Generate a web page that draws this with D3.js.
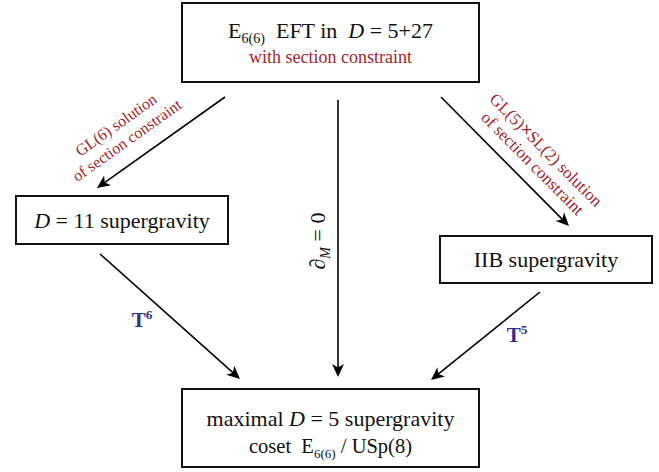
<!DOCTYPE html>
<html>
<head>
<meta charset="utf-8">
<script src="https://cdn.jsdelivr.net/npm/d3@7"></script>
<style>
  body { margin: 0; background: #fff; }
  svg { display: block; }
</style>
</head>
<body>
<svg id="chart" width="659" height="472"></svg>
<script>
// nodes of the diagram (text uses a tiny markup: _{sub} ^{sup} *italic* **bold**)
var nodeIds = ["eft", "d11", "iib", "d5"];
var nodeTitles = [
  ["E_{6(6)}  EFT in  *D* = 5+27"],
  ["*D* = 11 supergravity"],
  ["IIB supergravity"],
  ["maximal *D* = 5 supergravity", "coset  E_{6(6)} / USp(8)"]
];
var nodeNotes = [["with section constraint"], [], [], []];

// arrows between nodes
var edgeFrom = ["eft", "eft", "eft", "d11", "iib"];
var edgeTo = ["d11", "d5", "iib", "d5", "d5"];
var edgeKinds = ["section", "reduction", "section", "torus", "torus"];
var edgeLabels = [
  ["GL(6) solution", "of section constraint"],
  ["∂_{*M*} = 0"],
  ["GL(5)**×**SL(2) solution", "of section constraint"],
  ["T^{6}"],
  ["T^{5}"]
];

// layout (pixels)
var boxLayout = {
  eft: {x: 182, y: 3, w: 297, h: 79, base: [38, 63], size: [22, 18]},
  d11: {x: 16, y: 196, w: 212, h: 48, base: [228], size: [22]},
  iib: {x: 440, y: 236, w: 212, h: 47, base: [267], size: [22]},
  d5:  {x: 182, y: 389, w: 297, h: 78, base: [426, 453], size: [22, 20.5]}
};
var edgeLayout = [
  {x1: 225, y1: 97,  x2: 97,  y2: 188, lx: 116, ly: 125, gap: 19, size: 16},
  {x1: 338, y1: 100, x2: 338, y2: 377, lx: 318, ly: 241, gap: 0,  size: 22},
  {x1: 441, y1: 97,  x2: 569, y2: 226, lx: 546, ly: 150, gap: 19, size: 17},
  {x1: 100, y1: 254, x2: 240, y2: 379, lx: 142, ly: 320, gap: 0,  size: 21},
  {x1: 540, y1: 292, x2: 431, y2: 380, lx: 517, ly: 335, gap: 0,  size: 21}
];

var serif = "'Liberation Serif', 'Times New Roman', serif";
var red = "#a3262c";
var blue = "#2e3192";

var svg = d3.select("#chart");

svg.append("defs").append("marker")
    .attr("id", "arrowhead")
    .attr("viewBox", "-14 -7 15 14")
    .attr("markerWidth", 15)
    .attr("markerHeight", 14)
    .attr("markerUnits", "userSpaceOnUse")
    .attr("refX", -8)
    .attr("refY", 0)
    .attr("orient", "auto")
  .append("path")
    .attr("d", "M0,0 L-13,-6 L-9.5,0 L-13,6 Z")
    .attr("fill", "#000");

function parseRich(str)
{
    var re = /(_\{[^}]*\}|\^\{[^}]*\}|\*\*[^*]+\*\*|\*[^*]+\*)/g;
    return str.split(re).filter(function(s) { return s !== "" && s !== undefined; }).map(function(p) {
        var seg = {t: p, sub: false, sup: false, it: false, bold: false};
        if (p.indexOf("_{") === 0) { seg.sub = true; seg.t = p.slice(2, -1); }
        else if (p.indexOf("^{") === 0) { seg.sup = true; seg.t = p.slice(2, -1); }
        else if (p.indexOf("**") === 0) { seg.bold = true; seg.t = p.slice(2, -2); }
        else if (p[0] === "*") { seg.it = true; seg.t = p.slice(1, -1); }
        if ((seg.sub || seg.sup) && /^\*.*\*$/.test(seg.t)) { seg.it = true; seg.t = seg.t.slice(1, -1); }
        return seg;
    });
}

function addRich(text, str, size)
{
    var shift = 0;
    parseRich(str).forEach(function(seg) {
        var target = seg.sub ? size * 0.22 : (seg.sup ? -size * 0.36 : 0);
        var ts = text.append("tspan").text(seg.t).attr("dy", target - shift);
        shift = target;
        if (seg.sub || seg.sup) ts.attr("font-size", size * 0.64);
        if (seg.it) ts.attr("font-style", "italic");
        if (seg.bold) ts.attr("font-weight", "bold").attr("font-size", size * 1.1);
    });
}

// boxes
nodeIds.forEach(function(id, i) {
    var b = boxLayout[id];
    var g = svg.append("g").attr("class", "node " + id);
    g.append("rect")
        .attr("x", b.x).attr("y", b.y)
        .attr("width", b.w).attr("height", b.h)
        .attr("fill", "#fff")
        .attr("stroke", "#111")
        .attr("stroke-width", 2);

    var lines = nodeTitles[i].map(function(s) { return {s: s, note: false}; })
        .concat(nodeNotes[i].map(function(s) { return {s: s, note: true}; }));

    lines.forEach(function(line, k) {
        var size = b.size[k];
        var t = g.append("text")
            .attr("x", b.x + b.w / 2)
            .attr("y", b.base[k])
            .attr("text-anchor", "middle")
            .attr("font-family", serif)
            .attr("font-size", size)
            .attr("fill", line.note ? red : "#111")
            .style("white-space", "pre");
        addRich(t, line.s, size);
    });
});

// arrows
edgeFrom.forEach(function(from, i) {
    var e = edgeLayout[i];
    var dx = e.x2 - e.x1, dy = e.y2 - e.y1;
    var len = Math.sqrt(dx * dx + dy * dy);
    var ex = e.x2 - dx / len * 8, ey = e.y2 - dy / len * 8;

    svg.append("line")
        .attr("class", "edge " + from + "-" + edgeTo[i])
        .attr("x1", e.x1).attr("y1", e.y1)
        .attr("x2", ex).attr("y2", ey)
        .attr("stroke", "#000")
        .attr("stroke-width", 1.6)
        .attr("marker-end", "url(#arrowhead)");

    var kind = edgeKinds[i];
    var angle = 0;
    if (kind !== "torus") {
        angle = Math.atan2(dy, dx) * 180 / Math.PI;
        if (angle > 89) angle -= 180;
        if (angle < -91) angle += 180;
    }
    var size = e.size;

    var g = svg.append("g")
        .attr("transform", "translate(" + e.lx + "," + e.ly + ") rotate(" + angle + ")");

    edgeLabels[i].forEach(function(s, k) {
        var t = g.append("text")
            .attr("x", 0)
            .attr("y", k * e.gap + size * 0.33)
            .attr("text-anchor", "middle")
            .attr("font-family", serif)
            .attr("font-size", size)
            .attr("fill", kind === "section" ? red : (kind === "torus" ? blue : "#111"))
            .attr("font-weight", kind === "torus" ? "bold" : null)
            .style("white-space", "pre");
        addRich(t, s, size);
    });
});
</script>
</body>
</html>
